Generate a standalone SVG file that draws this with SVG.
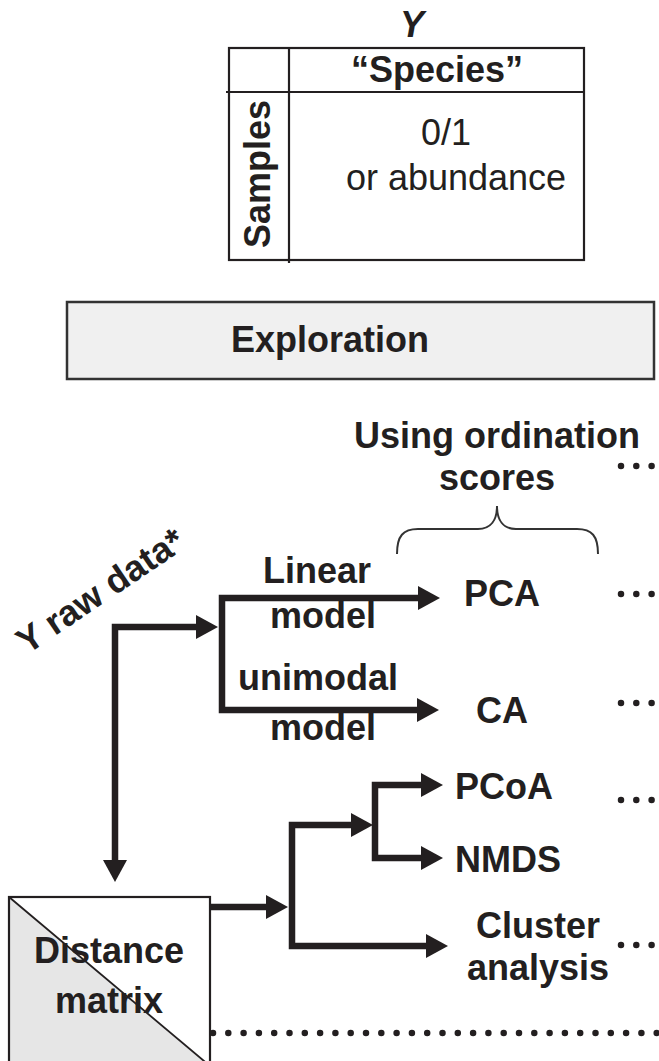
<svg xmlns="http://www.w3.org/2000/svg" width="659" height="1061" viewBox="0 0 659 1061">
  <style>
    text { font-family: "Liberation Sans", Arial, sans-serif; font-size: 36px; fill: #231f20; }
    .b { font-weight: bold; }
    .m { text-anchor: middle; }
    .frame { fill: none; stroke: #231f20; stroke-width: 2.2; }
    .conn { fill: none; stroke: #231f20; stroke-width: 6.5; stroke-linejoin: miter; }
    .dots { fill: none; stroke: #231f20; stroke-width: 6.5; stroke-linecap: round; stroke-dasharray: 0 15.3; }
    .brace { fill: none; stroke: #333; stroke-width: 2; }
  </style>
  <defs>
    <marker id="arrow" viewBox="-2 -12 22 24" refX="0" refY="0" markerWidth="22" markerHeight="24" markerUnits="userSpaceOnUse" orient="auto-start-reverse">
      <path d="M-2,-12 L20,0 L-2,12 Z" fill="#231f20"/>
    </marker>
  </defs>

  <rect width="659" height="1061" fill="#ffffff"/>

  <!-- Y data table -->
  <g id="table-y">
    <text x="412" y="37" class="b m" font-style="italic">Y</text>
    <rect x="229" y="48" width="355" height="212" class="frame"/>
    <line x1="226" y1="92" x2="584" y2="92" class="frame"/>
    <line x1="289" y1="48" x2="289" y2="263" class="frame"/>
    <text x="437" y="82" class="b m">“Species”</text>
    <text x="446" y="145" class="m">0/1</text>
    <text x="456" y="190" class="m">or abundance</text>
    <text class="b m" transform="translate(270,174) rotate(-90)">Samples</text>
  </g>

  <!-- Exploration banner -->
  <g id="exploration">
    <rect x="67" y="302" width="587" height="77" fill="#f0f0f0" stroke="#333" stroke-width="2.5"/>
    <text x="330" y="352" class="b m">Exploration</text>
  </g>

  <!-- Ordination header with brace -->
  <g id="ordination-header">
    <text x="497" y="448" class="b m">Using ordination</text>
    <text x="497" y="490" class="b m">scores</text>
    <path class="brace" d="M397,554 C397,536 403,529 418,529 L478,529 C491,529 497,520 497,506 C497,520 503,529 516,529 L577,529 C592,529 598,536 598,554"/>
  </g>

  <!-- Raw data label -->
  <g id="raw-data">
    <text class="b" transform="translate(27,655) rotate(-34)">Y raw data*</text>
  </g>

  <!-- Model labels -->
  <g id="linear-model">
    <text x="317" y="583" class="b m">Linear</text>
    <text x="323" y="628" class="b m">model</text>
  </g>
  <g id="unimodal-model">
    <text x="318" y="690" class="b m">unimodal</text>
    <text x="323" y="740" class="b m">model</text>
  </g>

  <!-- Methods -->
  <g id="pca"><text x="502" y="606" class="b m">PCA</text></g>
  <g id="ca"><text x="502" y="723" class="b m">CA</text></g>
  <g id="pcoa"><text x="455" y="799" class="b">PCoA</text></g>
  <g id="nmds"><text x="455" y="872" class="b">NMDS</text></g>
  <g id="cluster">
    <text x="538" y="938" class="b m">Cluster</text>
    <text x="538" y="980" class="b m">analysis</text>
  </g>

  <!-- Distance matrix -->
  <g id="distance-matrix">
    <rect x="9" y="897" width="201" height="175" fill="#ffffff"/>
    <polygon points="9,897 210,1066 9,1066" fill="#e6e6e6"/>
    <line x1="9" y1="897" x2="210" y2="1066" stroke="#231f20" stroke-width="1.8"/>
    <rect x="9" y="897" width="201" height="175" class="frame"/>
    <text x="109" y="963" class="b m">Distance</text>
    <text x="109" y="1013" class="b m">matrix</text>
  </g>

  <!-- Connectors -->
  <g id="connectors">
    <path class="conn" d="M115,862 V627 H198" marker-start="url(#arrow)" marker-end="url(#arrow)"/>
    <path class="conn" d="M420,598 H222 V710 H419" marker-start="url(#arrow)" marker-end="url(#arrow)"/>
    <path class="conn" d="M210,907 H268" marker-end="url(#arrow)"/>
    <path class="conn" d="M353,825 H292 V946 H428" marker-start="url(#arrow)" marker-end="url(#arrow)"/>
    <path class="conn" d="M423,785 H375 V858 H423" marker-start="url(#arrow)" marker-end="url(#arrow)"/>
  </g>

  <!-- Continuation dots -->
  <g id="continuations">
    <path class="dots" d="M621,466 H670"/>
    <path class="dots" d="M621,594 H670"/>
    <path class="dots" d="M621,703 H670"/>
    <path class="dots" d="M621,800 H670"/>
    <path class="dots" d="M621,945 H670"/>
    <path class="dots" d="M213,1033 H670"/>
  </g>
</svg>
